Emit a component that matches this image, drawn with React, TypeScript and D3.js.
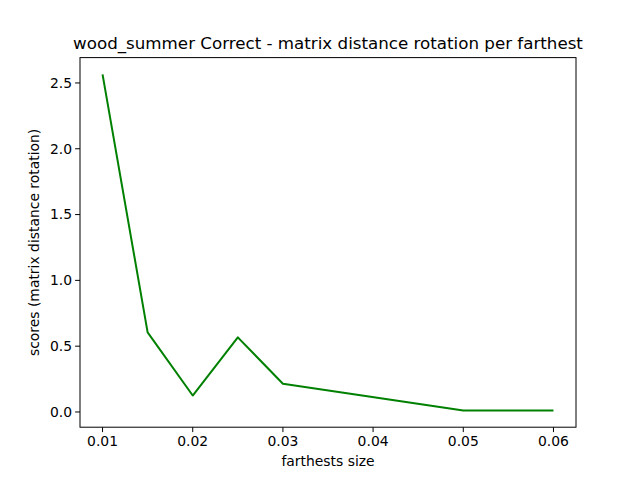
import React from "react";
import * as d3 from "d3";

const sizes = [0.01, 0.015, 0.02, 0.025, 0.03, 0.05, 0.06];
const scores = [2.565, 0.605, 0.125, 0.567, 0.215, 0.012, 0.012];
const xTicks = [0.01, 0.02, 0.03, 0.04, 0.05, 0.06];
const yTicks = [0.0, 0.5, 1.0, 1.5, 2.0, 2.5];

const W = 640;
const H = 480;
const m = { left: 80, right: 576, top: 57.6, bottom: 427.2 };
const font = "DejaVu Sans, sans-serif";

const App: React.FC = () => {
  const xPad = (0.06 - 0.01) * 0.05;
  const yMin = d3.min(scores)!;
  const yMax = d3.max(scores)!;
  const yPad = (yMax - yMin) * 0.05;
  const x = d3.scaleLinear().domain([0.01 - xPad, 0.06 + xPad]).range([m.left, m.right]);
  const y = d3.scaleLinear().domain([yMin - yPad, yMax + yPad]).range([m.bottom, m.top]);
  const line = d3
    .line<number>()
    .x((_, i) => x(sizes[i]))
    .y((d) => y(d));

  return (
    <svg width={W} height={H} style={{ position: "absolute", left: 0, top: 0, background: "#fff" }}>
      <path d={line(scores) || ""} fill="none" stroke="#008000" strokeWidth={2} strokeLinejoin="round" />
      <rect x={m.left} y={m.top} width={m.right - m.left} height={m.bottom - m.top} fill="none" stroke="#000" strokeWidth={1} />
      {xTicks.map((t) => (
        <g key={t} transform={`translate(${x(t)},${m.bottom})`}>
          <line y2={4.9} stroke="#000" />
          <text y={19} textAnchor="middle" fontSize={13.9} fontFamily={font}>{t.toFixed(2)}</text>
        </g>
      ))}
      {yTicks.map((t) => (
        <g key={t} transform={`translate(${m.left},${y(t)})`}>
          <line x2={-4.9} stroke="#000" />
          <text x={-8} dy="0.35em" textAnchor="end" fontSize={13.9} fontFamily={font}>{t.toFixed(1)}</text>
        </g>
      ))}
      <text x={(m.left + m.right) / 2} y={466} textAnchor="middle" fontSize={13.9} fontFamily={font}>farthests size</text>
      <text transform={`translate(39,${(m.top + m.bottom) / 2}) rotate(-90)`} textAnchor="middle" fontSize={13.9} fontFamily={font}>
        scores (matrix distance rotation)
      </text>
      <text x={(m.left + m.right) / 2} y={49} textAnchor="middle" fontSize={16.7} fontFamily={font}>
        wood_summer Correct - matrix distance rotation per farthest
      </text>
    </svg>
  );
};

export default App;
